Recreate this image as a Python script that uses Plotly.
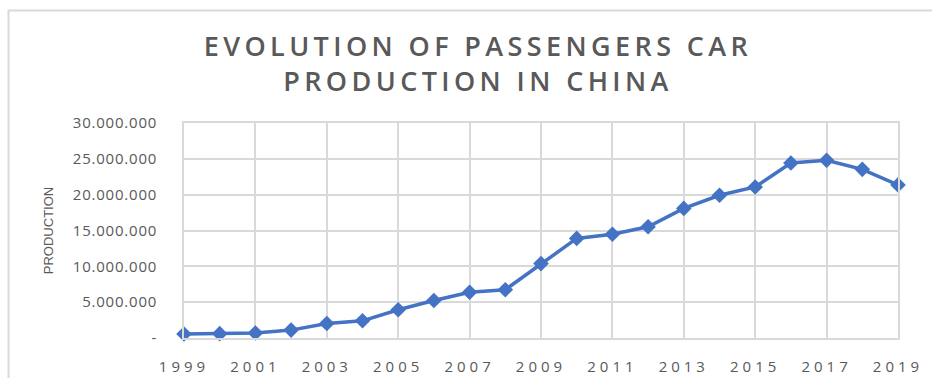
import plotly.graph_objects as go

# Passenger car production in China, units per year
years = list(range(1999, 2020))
production = [565366, 604677, 703525, 1101696, 2018875, 2400000, 3941767,
              5233132, 6381116, 6737745, 10383831, 13897083, 14485326,
              15523658, 18085213, 19919795, 21079427, 24420744, 24806687,
              23529423, 21360193]

y_ticks = [0, 5000000, 10000000, 15000000, 20000000, 25000000, 30000000]
x_ticks = years[::2]

TEXT_GREY = "#595959"
GRID_GREY = "#d9d9d9"
LINE_BLUE = "#4472C4"


def dotted(n):
    """Format with '.' as thousands separator, zero shown as a dash."""
    return "-" if n == 0 else f"{n:,}".replace(",", ".")


def spaced(s, px):
    return f'<span style="letter-spacing:{px}px">{s}</span>'


fig = go.Figure()
fig.add_trace(go.Scatter(
    x=years, y=production, mode="lines+markers",
    line=dict(color=LINE_BLUE, width=3.5),
    marker=dict(symbol="diamond", size=12, color=LINE_BLUE),
    showlegend=False, cliponaxis=False,
))

W, H = 932, 378
L, R, T, B = 184, 34, 123, 40
fig.update_layout(
    width=W, height=H,
    margin=dict(l=L, r=R, t=T, b=B, autoexpand=False),
    paper_bgcolor="white", plot_bgcolor="white",
    font=dict(family="Open Sans", color=TEXT_GREY),
    title=dict(
        text=spaced("EVOLUTION OF PASSENGERS CAR", 4.4) + "<br>" +
             spaced("PRODUCTION IN CHINA", 4.4),
        x=478 / W, xanchor="center", xref="container",
        y=1 - 56 / H, yanchor="middle", yref="container",
        font=dict(family="Open Sans", size=27, color=TEXT_GREY, weight=600),
    ),
    xaxis=dict(
        range=[1999, 2019], tickvals=x_ticks,
        ticktext=[spaced(str(v), 4) for v in x_ticks],
        showgrid=True, gridcolor=GRID_GREY, gridwidth=1.5,
        showline=True, linecolor=GRID_GREY, linewidth=1.5, mirror=True,
        zeroline=False, ticks="", ticklabelstandoff=14, automargin=False,
        tickfont=dict(family="Open Sans", size=15, color=TEXT_GREY),
    ),
    yaxis=dict(
        range=[0, 30000000], tickvals=y_ticks,
        ticktext=[spaced(dotted(v), 0.8) for v in y_ticks],
        showgrid=True, gridcolor=GRID_GREY, gridwidth=1.5,
        showline=True, linecolor=GRID_GREY, linewidth=1.5, mirror=True,
        zeroline=False, ticks="", ticklabelstandoff=22, automargin=False,
        tickfont=dict(family="Open Sans", size=15, color=TEXT_GREY),
        title=dict(text="PRODUCTION", standoff=16,
                   font=dict(family="Liberation Sans", size=13, color=TEXT_GREY)),
    ),
    shapes=[dict(
        type="rect", xref="paper", yref="paper",
        x0=-(L - 8.5) / (W - L - R), x1=1.5,
        y0=-0.5, y1=1 + (T - 10.5) / (H - T - B),
        line=dict(color=GRID_GREY, width=2), fillcolor="rgba(0,0,0,0)",
        layer="below",
    )],
)

fig.write_html("out.html")
